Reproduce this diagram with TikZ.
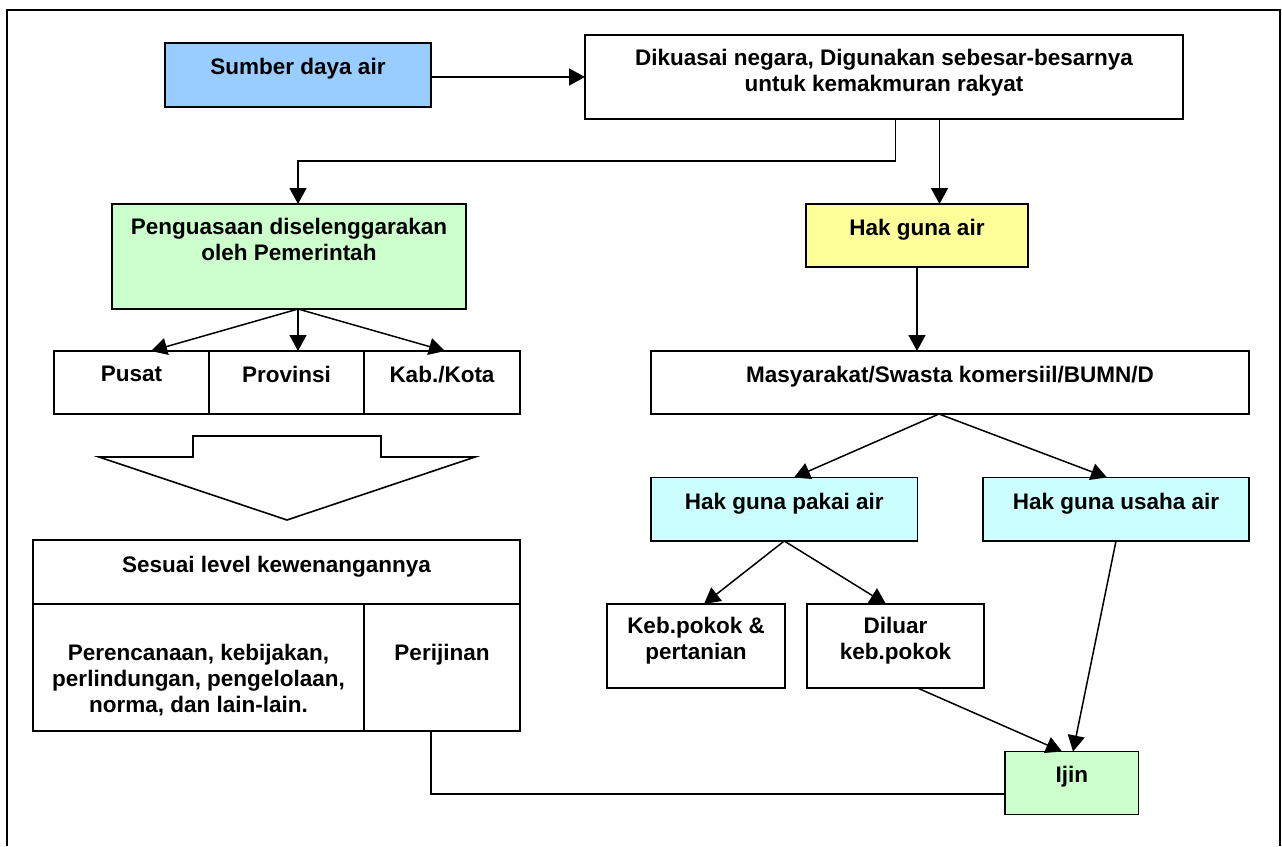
\documentclass[tikz,border=0pt]{standalone}
\usepackage{fontspec}
\setmainfont{Liberation Sans}
\usetikzlibrary{arrows.meta}
\definecolor{cblue}{HTML}{99CCFF}
\definecolor{cgreen}{HTML}{CCFFCC}
\definecolor{cyell}{HTML}{FFFF99}
\definecolor{ccyan}{HTML}{CCFFFF}
\tikzset{
  box/.style={draw, line width=1.8pt, inner sep=0pt, outer sep=0pt},
  lbl/.style={font=\bfseries\fontsize{22.5}{26}\selectfont, align=center, inner sep=0pt, anchor=north},
  conn/.style={line width=1.5pt},
  arr/.style={conn, -{Triangle[length=16pt,width=17pt]}},
}
\begin{document}
\begin{tikzpicture}[x=1pt,y=-1pt]
\useasboundingbox (0,0) rectangle (1282,846);
% outer frame
\draw[line width=2pt] (6.5,846) -- (6.5,9.5) -- (1280,9.5) -- (1280,846);

% boxes
\node[box, fill=cblue, minimum width=266pt, minimum height=64pt] (sda) at (298,75) {};
\node[box, fill=white, minimum width=598pt, minimum height=84pt] (dik) at (884,77) {};
\node[box, fill=cgreen, minimum width=354pt, minimum height=105pt] (peng) at (289,256.5) {};
\node[box, fill=cyell, minimum width=222pt, minimum height=63pt] (hga) at (917,235.5) {};
\node[box, minimum width=155pt, minimum height=63pt] (pusat) at (131.5,382.5) {};
\node[box, minimum width=155pt, minimum height=63pt] (prov) at (286.5,382.5) {};
\node[box, minimum width=156pt, minimum height=63pt] (kab) at (442,382.5) {};
\node[box, minimum width=487pt, minimum height=64pt] (sesuai) at (276.5,572) {};
\node[box, minimum width=331pt, minimum height=127pt] (peren) at (198.5,667.5) {};
\node[box, minimum width=156pt, minimum height=127pt] (perij) at (442,667.5) {};
\node[box, minimum width=598pt, minimum height=63pt] (masy) at (950,382.5) {};
\node[box, fill=ccyan, minimum width=266.5pt, minimum height=63.5pt] (hgp) at (784.25,509.25) {};
\node[box, fill=ccyan, minimum width=266pt, minimum height=63.5pt] (hgu) at (1116,509.25) {};
\node[box, minimum width=178pt, minimum height=84pt] (keb) at (696,646) {};
\node[box, minimum width=177pt, minimum height=84pt] (dil) at (895.5,646) {};
\node[box, fill=cgreen, minimum width=133.5pt, minimum height=63pt] (ijin) at (1071.75,783) {};

% texts
\node[lbl] (sdat) at ([yshift=-15pt]sda.north) {Sumber daya air};
\node[lbl] (dikt) at ([yshift=-14pt]dik.north) {Dikuasai negara, Digunakan sebesar-besarnya\\untuk kemakmuran rakyat};
\node[lbl] (pengt) at ([yshift=-14pt]peng.north) {Penguasaan diselenggarakan\\oleh Pemerintah};
\node[lbl] (hgat) at ([yshift=-15pt]hga.north) {Hak guna air};
\node[lbl] (pusatt) at ([yshift=-15pt]pusat.north) {Pusat};
\node[lbl] (provt) at ([yshift=-15pt]prov.north) {Provinsi};
\node[lbl] (kabt) at ([yshift=-15pt]kab.north) {Kab./Kota};
\node[lbl] (sesuait) at ([yshift=-15.5pt]sesuai.north) {Sesuai level kewenangannya};
\node[lbl] (perent) at ([yshift=-40pt]peren.north) {Perencanaan, kebijakan,\\perlindungan, pengelolaan,\\norma, dan lain-lain.};
\node[lbl] (perijt) at ([yshift=-40pt]perij.north) {Perijinan};
\node[lbl] (masyt) at ([yshift=-15pt]masy.north) {Masyarakat/Swasta komersiil/BUMN/D};
\node[lbl] (hgpt) at ([yshift=-15pt]hgp.north) {Hak guna pakai air};
\node[lbl] (hgut) at ([yshift=-15pt]hgu.north) {Hak guna usaha air};
\node[lbl] (kebt) at ([yshift=-13pt]keb.north) {Keb.pokok \&\\pertanian};
\node[lbl] (dilt) at ([yshift=-13pt]dil.north) {Diluar\\keb.pokok};
\node[lbl] (ijint) at ([yshift=-14.5pt]ijin.north) {Ijin};

% block arrow
\draw[line width=1.6pt, line join=miter] (193,436) -- (381,436) -- (381,457) -- (475,457) -- (287,520) -- (99,457) -- (193,457) -- cycle;

% connectors
\coordinate (bend) at (298,161);
\draw[arr] (sda.east |- dik.west) -- (dik.west);
\draw[arr] ([xshift=11.5pt]dik.south) |- (bend) -- ([xshift=9pt]peng.north);
\draw[arr] ([xshift=55.5pt]dik.south) -- ([xshift=55.5pt]dik.south |- hga.north);
\draw[arr] (hga.south) -- (hga.south |- masy.north);
\draw[arr] ([xshift=9pt]peng.south) -- ([xshift=19.5pt]pusat.north);
\draw[arr] ([xshift=9pt]peng.south) -- ([xshift=11.5pt]prov.north);
\draw[arr] ([xshift=9pt]peng.south) -- ([xshift=3pt]kab.north);
\draw[arr] ([xshift=-11pt]masy.south) -- ([xshift=9.75pt]hgp.north);
\draw[arr] ([xshift=-11pt]masy.south) -- ([xshift=-9pt]hgu.north);
\draw[arr] (hgp.south) -- ([xshift=8pt]keb.north);
\draw[arr] (hgp.south) -- ([xshift=-9.5pt]dil.north);
\draw[arr] ([xshift=22pt]dil.south) -- ([xshift=-9.75pt]ijin.north);
\draw[arr] (hgu.south) -- ([xshift=1.25pt]ijin.north);
\draw[conn] ([xshift=-11pt]perij.south) |- ([yshift=-11pt]ijin.west);
\end{tikzpicture}
\end{document}
